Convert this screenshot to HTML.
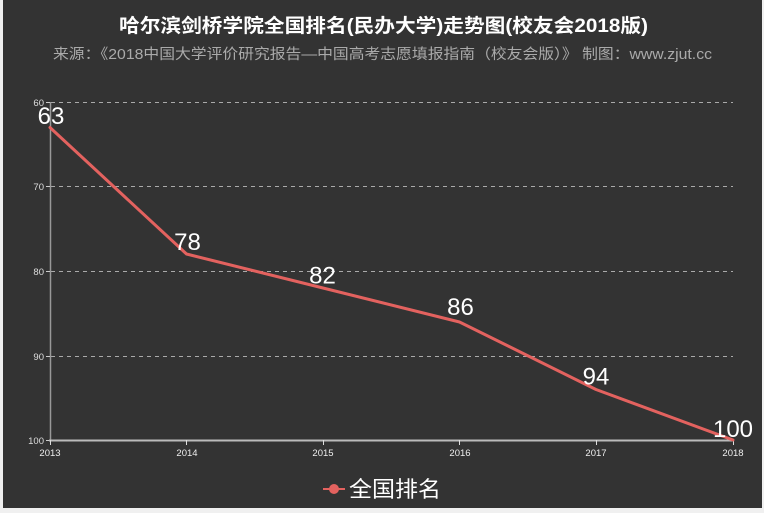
<!DOCTYPE html>
<html>
<head>
<meta charset="utf-8">
<style>
html,body{margin:0;padding:0;background:#f0f0f0;}
body{width:764px;height:513px;overflow:hidden;}
svg{display:block;}
</style>
</head>
<body>
<svg width="764" height="513" viewBox="0 0 764 513" xmlns="http://www.w3.org/2000/svg">
  <rect x="0" y="0" width="764" height="513" fill="#f0f0f0"/>
  <rect x="3" y="0" width="759" height="508" fill="#333333"/>

  <!-- Title -->
  <text x="383.5" y="32" text-anchor="middle" fill="#ffffff" font-family="'Liberation Sans','Noto Sans CJK SC',sans-serif" font-size="19" font-weight="bold" textLength="529" lengthAdjust="spacingAndGlyphs">哈尔滨剑桥学院全国排名(民办大学)走势图(校友会2018版)</text>
  <!-- Subtitle -->
  <text x="382.5" y="59" text-anchor="middle" fill="#aaaaaa" font-family="'Liberation Sans','Noto Sans CJK SC',sans-serif" font-size="14.5" textLength="659" lengthAdjust="spacingAndGlyphs">来源：《2018中国大学评价研究报告—中国高考志愿填报指南（校友会版）》 制图：www.zjut.cc</text>

  <!-- Grid lines -->
  <g stroke="#aaaaaa" stroke-width="1" stroke-dasharray="4,4">
    <line x1="51" y1="102.5" x2="733" y2="102.5"/>
    <line x1="51" y1="186.5" x2="733" y2="186.5"/>
    <line x1="51" y1="271.5" x2="733" y2="271.5"/>
    <line x1="51" y1="356.5" x2="733" y2="356.5"/>
  </g>

  <!-- Y axis -->
  <line x1="50.5" y1="102" x2="50.5" y2="440" stroke="#999999" stroke-width="1.5"/>
  <g stroke="#cccccc" stroke-width="1">
    <line x1="46" y1="102.5" x2="50" y2="102.5"/>
    <line x1="46" y1="186.5" x2="50" y2="186.5"/>
    <line x1="46" y1="271.5" x2="50" y2="271.5"/>
    <line x1="46" y1="356.5" x2="50" y2="356.5"/>
    <line x1="46" y1="440.5" x2="50" y2="440.5"/>
  </g>
  <g fill="#dddddd" font-family="'Liberation Sans',sans-serif" font-size="9.5" text-anchor="end">
    <text x="44" y="106">60</text>
    <text x="44" y="190">70</text>
    <text x="44" y="275">80</text>
    <text x="44" y="360">90</text>
    <text x="44" y="444">100</text>
  </g>

  <!-- X axis -->
  <line x1="49" y1="440.5" x2="734" y2="440.5" stroke="#bbbbbb" stroke-width="2"/>
  <g stroke="#dddddd" stroke-width="1">
    <line x1="50.5" y1="440" x2="50.5" y2="445"/>
    <line x1="186.5" y1="440" x2="186.5" y2="445"/>
    <line x1="323.5" y1="440" x2="323.5" y2="445"/>
    <line x1="459.5" y1="440" x2="459.5" y2="445"/>
    <line x1="596.5" y1="440" x2="596.5" y2="445"/>
    <line x1="733.5" y1="440" x2="733.5" y2="445"/>
  </g>
  <g fill="#eeeeee" font-family="'Liberation Sans',sans-serif" font-size="9.5" text-anchor="middle">
    <text x="50" y="456">2013</text>
    <text x="187" y="456">2014</text>
    <text x="323" y="456">2015</text>
    <text x="460" y="456">2016</text>
    <text x="596" y="456">2017</text>
    <text x="733" y="456">2018</text>
  </g>

  <!-- Series line -->
  <polyline points="50,127.5 186.5,254 323,288 459.5,322 596,389.5 733,440" fill="none" stroke="#e3625f" stroke-width="3" stroke-linejoin="round" stroke-linecap="round"/>

  <!-- Data labels -->
  <g fill="#ffffff" font-family="'Liberation Sans',sans-serif" font-size="24" text-anchor="middle">
    <text x="51" y="124">63</text>
    <text x="187.5" y="250">78</text>
    <text x="322.5" y="283.5">82</text>
    <text x="460.5" y="315">86</text>
    <text x="596" y="384.5">94</text>
    <text x="733" y="437">100</text>
  </g>

  <!-- Legend -->
  <line x1="323" y1="489" x2="345" y2="489" stroke="#e3625f" stroke-width="2"/>
  <circle cx="334" cy="489" r="5" fill="#e3625f"/>
  <text x="349" y="497" fill="#ffffff" font-family="'Liberation Sans','Noto Sans CJK SC',sans-serif" font-size="22" textLength="92" lengthAdjust="spacingAndGlyphs">全国排名</text>
</svg>
</body>
</html>
